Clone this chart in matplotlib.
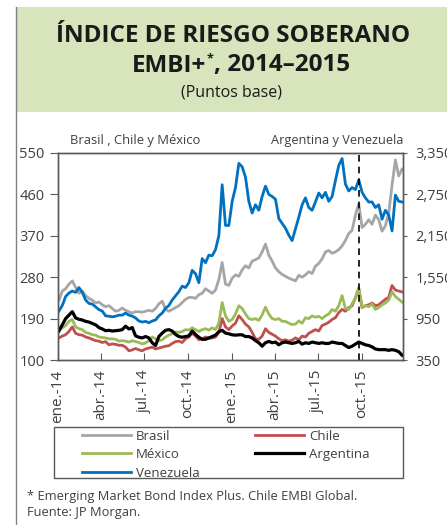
import matplotlib
matplotlib.use("Agg")
import matplotlib.pyplot as plt
from matplotlib.lines import Line2D
from matplotlib.patches import Rectangle
from matplotlib.ticker import FuncFormatter
import pandas as pd

plt.rcParams['font.family'] = ['Open Sans', 'DejaVu Sans']

# weekly readings, 2014-01-03 .. 2015-12-25
dates = pd.date_range('2014-01-03', periods=104, freq='7D')

brasil = [230, 250, 255, 265, 272, 258, 245, 250, 240, 234, 230, 224, 226, 220, 216, 218,
          212, 206, 208, 213, 208, 205, 202, 205, 205, 204, 206, 208, 206, 212, 222, 228,
          210, 206, 210, 214, 218, 225, 232, 236, 236, 234, 242, 245, 255, 250, 245, 252,
          275, 312, 265, 262, 278, 285, 282, 296, 305, 300, 315, 318, 322, 335, 352, 328,
          315, 300, 292, 286, 282, 278, 275, 272, 284, 280, 285, 292, 288, 304, 310, 320,
          335, 338, 332, 335, 340, 348, 360, 375, 382, 415, 440, 388, 395, 405, 395, 415,
          405, 380, 392, 420, 480, 535, 500, 515]

chile = [148, 152, 155, 162, 172, 158, 155, 154, 150, 148, 145, 142, 141, 138, 140, 133,
         135, 134, 132, 132, 128, 120, 122, 125, 122, 120, 124, 126, 128, 124, 126, 128,
         130, 131, 136, 140, 141, 138, 146, 150, 158, 152, 144, 146, 150, 147, 148, 150,
         160, 190, 172, 166, 174, 180, 196, 188, 178, 172, 160, 146, 145, 152, 168, 160,
         156, 152, 146, 142, 144, 141, 143, 148, 144, 152, 150, 158, 162, 166, 163, 175,
         178, 182, 188, 192, 203, 210, 206, 214, 218, 235, 255, 214, 218, 220, 224, 218,
         220, 226, 232, 236, 262, 252, 250, 248]

mexico = [166, 170, 175, 184, 188, 172, 168, 166, 160, 158, 155, 154, 150, 149, 148, 146,
          146, 145, 141, 142, 141, 139, 142, 140, 138, 135, 137, 142, 150, 146, 142, 144,
          150, 154, 157, 161, 160, 162, 166, 165, 170, 166, 162, 166, 168, 165, 170, 166,
          180, 225, 196, 184, 188, 200, 218, 212, 200, 190, 188, 190, 186, 198, 215, 200,
          190, 188, 190, 184, 184, 180, 177, 178, 185, 180, 192, 190, 196, 193, 195, 190,
          196, 200, 210, 206, 218, 240, 212, 210, 222, 235, 258, 215, 218, 216, 222, 210,
          214, 220, 224, 230, 248, 238, 232, 226]

argentina = [770, 860, 950, 1000, 1050, 960, 940, 930, 910, 900, 880, 860, 820, 800, 775, 780,
             770, 775, 780, 790, 840, 800, 820, 700, 680, 670, 690, 670, 600, 560, 690, 740,
             780, 790, 770, 720, 690, 680, 690, 700, 770, 720, 680, 650, 650, 670, 690, 710,
             760, 780, 740, 730, 715, 710, 715, 715, 690, 690, 670, 630, 600, 550, 600, 620,
             600, 610, 570, 600, 610, 600, 590, 600, 620, 580, 600, 590, 610, 600, 590, 600,
             590, 590, 610, 600, 590, 590, 560, 530, 550, 580, 610, 590, 570, 560, 540, 510,
             500, 500, 500, 490, 500, 490, 470, 420]

venezuela = [1060, 1140, 1270, 1320, 1350, 1330, 1400, 1330, 1220, 1170, 1160, 1120, 1080, 1060, 990, 985,
             975, 985, 1000, 1000, 1030, 1000, 985, 960, 915, 900, 910, 890, 915, 930, 990, 1030,
             1100, 1140, 1220, 1280, 1340, 1420, 1400, 1470, 1650, 1600, 1470, 1820, 1760, 1870, 1860, 1950,
             2150, 2890, 2300, 2300, 2650, 2850, 3200, 3150, 3000, 2650, 2480, 2600, 2520, 2720, 2870, 2750,
             2720, 2680, 2400, 2330, 2260, 2160, 2080, 2250, 2420, 2600, 2700, 2560, 2520, 2640, 2770, 2700,
             2780, 2650, 2720, 2950, 3170, 3270, 2900, 2800, 2850, 2820, 2960, 2780, 2700, 2640, 2640, 2560,
             2600, 2390, 2520, 2450, 2220, 2740, 2650, 2640]

tick_dates = pd.to_datetime(['2014-01-01', '2014-04-01', '2014-07-01', '2014-10-01',
                             '2015-01-01', '2015-04-01', '2015-07-01', '2015-10-01'])
tick_labels = ['ene.-14', 'abr.-14', 'jul.-14', 'oct.-14', 'ene.-15', 'abr.-15', 'jul.-15', 'oct.-15']
left_ticks = [100, 190, 280, 370, 460, 550]
right_ticks = [350, 950, 1550, 2150, 2750, 3350]
marker_date = pd.Timestamp('2015-09-25')

txt = '#404040'
spine = '#595959'
W, H = 447, 525

fig = plt.figure(figsize=(4.47, 5.25), dpi=100)
renderer = fig.canvas.get_renderer()

# header box and left rule
fig.patches.append(Rectangle((16 / W, 1 - 112 / H), 1, 105 / H, transform=fig.transFigure,
                             facecolor='#D8E4BC', edgecolor='none', zorder=0))
fig.lines.append(Line2D([16 / W, 16 / W], [0, 1 - 7 / H], transform=fig.transFigure,
                        color='#808080', lw=1))

fig.text(233 / W, 1 - 35.5 / H, 'ÍNDICE DE RIESGO SOBERANO', ha='center', va='center',
         fontsize=17.5, fontweight='bold', color='#1a1a1a')

# second title line: "EMBI+" + small raised "*" + ", 2014–2015"
parts = [('EMBI+', 17.5, 0), ('*', 9, 7), (', 2014–2015', 17.5, 0)]
items = []
for s, fs, dy in parts:
    t = fig.text(0, 1 - 65.5 / H, s, ha='left', va='center', fontsize=fs,
                 fontweight='bold', color='#1a1a1a')
    items.append((t, t.get_window_extent(renderer).width, dy))
x = 241 - sum(w for _, w, _ in items) / 2
for t, w, dy in items:
    t.set_x(x / W)
    t.set_y(1 - (65.5 - dy) / H)
    x += w

fig.text(232 / W, 1 - 92.5 / H, '(Puntos base)', ha='center', va='center', fontsize=11.5,
         color='#1a1a1a')

ax = fig.add_axes([58 / W, 1 - 360 / H, 345 / W, 207 / H])
ax2 = ax.twinx()

l_br, = ax.plot(dates, brasil, color='#A6A6A6', lw=2)
l_cl, = ax.plot(dates, chile, color='#C0504D', lw=2)
l_mx, = ax.plot(dates, mexico, color='#9BBB59', lw=2)
l_ar, = ax2.plot(dates, argentina, color='black', lw=2.3)
l_ve, = ax2.plot(dates, venezuela, color='#0070C0', lw=2)
ax2.axvline(marker_date, color='black', lw=1.2, ls=(0, (4, 3)))

ax.set_xlim(pd.Timestamp('2014-01-01'), pd.Timestamp('2015-12-27'))
ax.set_ylim(100, 550)
ax2.set_ylim(350, 3350)
ax.set_yticks(left_ticks)
ax2.set_yticks(right_ticks)
ax2.yaxis.set_major_formatter(FuncFormatter(lambda v, p: f'{v:,.0f}'))
ax.set_xticks(tick_dates)
ax.set_xticklabels(tick_labels, rotation=90)

ax.tick_params(axis='x', direction='in', length=5, pad=7, labelsize=11, colors=spine, labelcolor=txt)
ax.tick_params(axis='y', direction='out', length=6, pad=3.5, labelsize=10.5, colors=spine, labelcolor=txt)
ax2.tick_params(axis='y', direction='out', length=3, pad=6, labelsize=10.5, colors=spine, labelcolor=txt)
for a in (ax, ax2):
    for s in a.spines.values():
        s.set_color(spine)
        s.set_linewidth(1)

fig.text(70 / W, 1 - 144 / H, 'Brasil , Chile y México', ha='left', va='baseline',
         fontsize=9.4, color=txt)
fig.text(403 / W, 1 - 144 / H, 'Argentina y Venezuela', ha='right', va='baseline',
         fontsize=9.2, color=txt)

# legend
fig.patches.append(Rectangle((54 / W, 1 - 478 / H), 349 / W, 51 / H, transform=fig.transFigure,
                             facecolor='none', edgecolor=spine, lw=1))
fig.legend([l_br, l_mx, l_ve, l_cl, l_ar], ['Brasil', 'México', 'Venezuela', 'Chile', 'Argentina'],
           loc='upper left', bbox_to_anchor=(82 / W, 1 - 429.5 / H), ncol=2, frameon=False,
           borderpad=0, borderaxespad=0, handlelength=3.7, handletextpad=0.4, columnspacing=4.2,
           labelspacing=0.42, fontsize=9.5, labelcolor=txt)

fig.text(27 / W, 1 - 500 / H, '* Emerging Market Bond Index Plus. Chile EMBI Global.',
         fontsize=9.3, color=txt, va='baseline')
fig.text(27 / W, 1 - 516 / H, 'Fuente: JP Morgan.', fontsize=9.3, color=txt, va='baseline')

fig.savefig('out.png', dpi=100)
